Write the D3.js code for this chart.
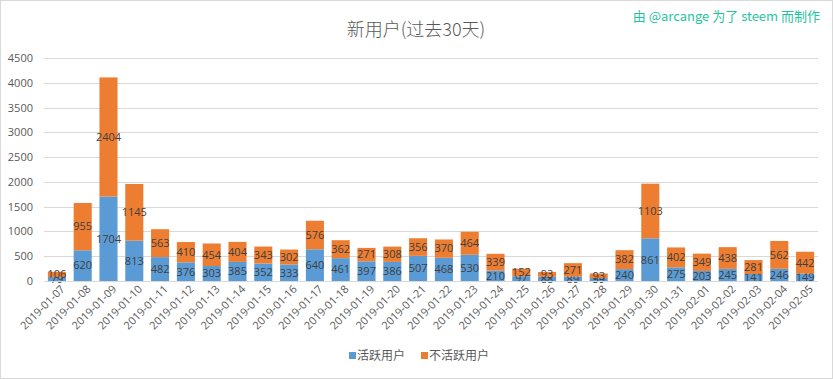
<!DOCTYPE html>
<html>
<head>
<meta charset="utf-8">
<script src="https://cdn.jsdelivr.net/npm/d3@7"></script>
<style>
	body { margin: 0; background: #fff; }
	svg { display: block; font-family: "Noto Sans CJK SC", "Open Sans", sans-serif; }
</style>
</head>
<body>
<div id="chart"></div>
<script>
const dates = [
	"2019-01-07", "2019-01-08", "2019-01-09", "2019-01-10", "2019-01-11", "2019-01-12",
	"2019-01-13", "2019-01-14", "2019-01-15", "2019-01-16", "2019-01-17", "2019-01-18",
	"2019-01-19", "2019-01-20", "2019-01-21", "2019-01-22", "2019-01-23", "2019-01-24",
	"2019-01-25", "2019-01-26", "2019-01-27", "2019-01-28", "2019-01-29", "2019-01-30",
	"2019-01-31", "2019-02-01", "2019-02-02", "2019-02-03", "2019-02-04", "2019-02-05"
];
const active = [79, 620, 1704, 813, 482, 376, 303, 385, 352, 333, 640, 461, 397, 386, 507,
	468, 530, 210, 97, 88, 89, 59, 240, 861, 275, 203, 245, 141, 246, 149];
const inactive = [106, 955, 2404, 1145, 563, 410, 454, 404, 343, 302, 576, 362, 271, 308, 356,
	370, 464, 339, 152, 93, 271, 93, 382, 1103, 402, 349, 438, 281, 562, 442];
const seriesNames = ["活跃用户", "不活跃用户"];
const colors = ["#5b9bd5", "#ed7d31"];
const yTicks = [0, 500, 1000, 1500, 2000, 2500, 3000, 3500, 4000, 4500];

const W = 833, H = 379;
const margin = { left: 44, right: 15, top: 58, bottom: 98 };

const svg = d3.select("#chart").append("svg")
	.attr("width", W)
	.attr("height", H);

// 外框
svg.append("rect")
	.attr("x", 0.5).attr("y", 0.5)
	.attr("width", W - 1).attr("height", H - 1)
	.attr("fill", "#fff")
	.attr("stroke", "#d9d9d9");

const x = d3.scaleBand()
	.domain(dates)
	.range([margin.left, W - margin.right])
	.paddingInner(0.3)
	.paddingOuter(0.15);

const y = d3.scaleLinear()
	.domain([0, 4500])
	.range([H - margin.bottom, margin.top]);

// 网格线
svg.append("g")
	.selectAll("line")
	.data(yTicks)
	.enter().append("line")
	.attr("x1", margin.left)
	.attr("x2", W - margin.right)
	.attr("y1", d => Math.round(y(d)) + 0.5)
	.attr("y2", d => Math.round(y(d)) + 0.5)
	.attr("stroke", "#d9d9d9");

// y 轴
const yAxis = svg.append("g")
	.attr("transform", "translate(" + (margin.left - 11) + ",0)")
	.call(d3.axisLeft(y).tickValues(yTicks).tickFormat(d3.format("d")).tickSize(0).tickPadding(0));
yAxis.select(".domain").remove();
yAxis.selectAll("text")
	.attr("fill", "#595959")
	.style("font-family", "'Open Sans', sans-serif")
	.style("font-size", "11px");

// 堆叠
const rows = dates.map((d, i) => ({ date: d, a: active[i], b: inactive[i] }));
const stack = d3.stack().keys(["a", "b"])(rows);

const layer = svg.append("g")
	.selectAll("g")
	.data(stack)
	.enter().append("g")
	.attr("fill", (d, i) => colors[i]);

layer.selectAll("rect")
	.data(d => d)
	.enter().append("rect")
	.attr("x", d => x(d.data.date))
	.attr("width", x.bandwidth())
	.attr("y", d => y(d[1]))
	.attr("height", d => y(d[0]) - y(d[1]));

layer.selectAll("text")
	.data(d => d)
	.enter().append("text")
	.attr("x", d => x(d.data.date) + x.bandwidth() / 2)
	.attr("y", d => (y(d[0]) + y(d[1])) / 2)
	.attr("dy", "0.35em")
	.attr("text-anchor", "middle")
	.attr("fill", "#404040")
	.style("font-family", "'Open Sans', sans-serif")
	.style("font-size", "11px")
	.text(d => d[1] - d[0]);

// x 轴
svg.append("line")
	.attr("x1", margin.left).attr("x2", W - margin.right)
	.attr("y1", Math.round(y(0)) + 0.5).attr("y2", Math.round(y(0)) + 0.5)
	.attr("stroke", "#d9d9d9");

const xAxis = svg.append("g")
	.attr("transform", "translate(0," + (y(0) + 4) + ")")
	.call(d3.axisBottom(x).tickSize(0).tickPadding(0));
xAxis.select(".domain").remove();
xAxis.selectAll("text")
	.attr("fill", "#595959")
	.style("font-family", "'Open Sans', sans-serif")
	.style("font-size", "11px")
	.attr("text-anchor", "end")
	.attr("dy", "0.6em")
	.attr("transform", "translate(4,0) rotate(-45)");

// 标题
svg.append("text")
	.attr("x", 416).attr("y", 36)
	.attr("text-anchor", "middle")
	.attr("fill", "#595959")
	.style("font-size", "18px")
	.style("font-weight", 300)
	.text("新用户(过去30天)");

svg.append("text")
	.attr("x", 820).attr("y", 21)
	.attr("text-anchor", "end")
	.attr("fill", "#1fc4a0")
	.style("font-size", "13px")
	.text("由 @arcange 为了 steem 而制作");

// 图例
const legend = svg.append("g")
	.attr("transform", "translate(349,356)");
const item = legend.selectAll("g")
	.data(seriesNames)
	.enter().append("g")
	.attr("transform", (d, i) => "translate(" + (i * 72) + ",0)");
item.append("rect")
	.attr("y", -4).attr("width", 7).attr("height", 7)
	.attr("fill", (d, i) => colors[i]);
item.append("text")
	.attr("x", 8).attr("dy", "0.35em")
	.attr("fill", "#595959")
	.style("font-size", "12px")
	.text(d => d);
</script>
</body>
</html>
